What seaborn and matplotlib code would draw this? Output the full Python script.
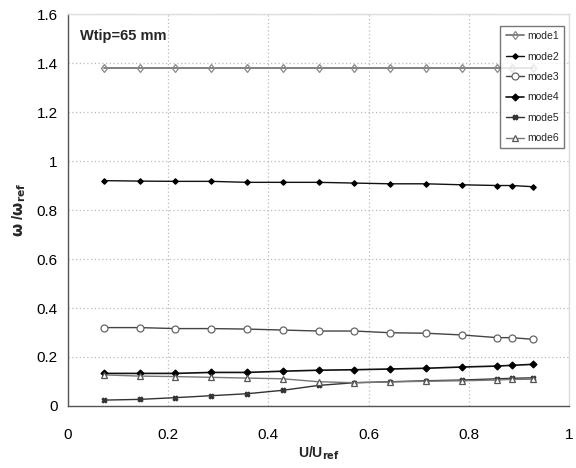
import numpy as np
import pandas as pd
import matplotlib
matplotlib.use("Agg")
import matplotlib.pyplot as plt
import seaborn as sns

x = [0.0714, 0.1429, 0.2143, 0.2857, 0.3571, 0.4286, 0.5, 0.5714, 0.6429, 0.7143, 0.7857, 0.8571, 0.8857, 0.9286]
mode1 = [1.38] * 14
mode2 = [0.920, 0.918, 0.917, 0.917, 0.913, 0.913, 0.913, 0.910, 0.907, 0.907, 0.903, 0.900, 0.900, 0.895]
mode3 = [0.320, 0.320, 0.316, 0.316, 0.314, 0.310, 0.306, 0.306, 0.299, 0.297, 0.290, 0.279, 0.279, 0.272]
mode4 = [0.133, 0.133, 0.133, 0.137, 0.137, 0.142, 0.146, 0.148, 0.151, 0.154, 0.159, 0.163, 0.166, 0.170]
mode5 = [0.024, 0.027, 0.034, 0.042, 0.050, 0.064, 0.084, 0.095, 0.099, 0.103, 0.106, 0.111, 0.113, 0.115]
mode6 = [0.127, 0.122, 0.120, 0.117, 0.114, 0.111, 0.099, 0.095, 0.098, 0.101, 0.103, 0.106, 0.109, 0.109]
names = ["mode1", "mode2", "mode3", "mode4", "mode5", "mode6"]
series = [mode1, mode2, mode3, mode4, mode5, mode6]

sns.set_style("white")
plt.rcParams['font.family'] = ['Liberation Sans', 'DejaVu Sans']

fig = plt.figure(figsize=(5.76, 4.68), dpi=100)
ax = fig.add_axes([0.118, 0.1325, 0.87, 0.8375])

styles = {
    "mode1": dict(color="#777777", marker="d", markersize=4.5, mfc="none", mec="#888888", lw=1.3),
    "mode2": dict(color="#111111", marker="D", markersize=2.8, mfc="black", mec="black", lw=1.0),
    "mode3": dict(color="#444444", marker="o", markersize=5, mfc="white", mec="#666666", lw=1.0),
    "mode4": dict(color="#111111", marker="D", markersize=3.5, mfc="black", mec="black", lw=1.2),
    "mode5": dict(color="#333333", marker="X", markersize=3.5, mfc="#333333", mec="#333333", lw=1.0),
    "mode6": dict(color="#777777", marker="^", markersize=4.5, mfc="white", mec="#555555", lw=1.0),
}

for n, s in zip(names, series):
    df = pd.DataFrame({"x": x, "y": s})
    st = styles[n]
    sns.lineplot(data=df, x="x", y="y", ax=ax, label=n, color=st["color"], lw=st["lw"],
                 marker=st["marker"], markersize=st["markersize"], markerfacecolor=st["mfc"],
                 markeredgecolor=st["mec"], markeredgewidth=0.9)

ax.set_xlim(0, 1)
ax.set_ylim(0, 1.6)
ax.set_xticks([0, 0.2, 0.4, 0.6, 0.8, 1.0])
ax.set_xticklabels(["0", "0.2", "0.4", "0.6", "0.8", "1"])
ax.set_yticks([0, 0.2, 0.4, 0.6, 0.8, 1.0, 1.2, 1.4, 1.6])
ax.set_yticklabels(["0", "0.2", "0.4", "0.6", "0.8", "1", "1.2", "1.4", "1.6"])
ax.tick_params(axis="both", labelsize=11, direction="out", length=4, width=0.8, colors="#444444", labelcolor="black")
ax.xaxis.set_tick_params(pad=12)
ax.grid(True, linestyle=(0, (1, 2)), color="#bbbbbb", linewidth=0.9)

for side in ["left", "bottom"]:
    ax.spines[side].set_color("#555555")
    ax.spines[side].set_linewidth(1.0)
for side in ["top", "right"]:
    ax.spines[side].set_color("#dddddd")
    ax.spines[side].set_linewidth(1.0)

ax.set_xlabel(r"U/U$_{\mathbf{ref}}$", fontsize=10, fontweight="bold", labelpad=2)
ax.set_ylabel(r"$\mathbf{\omega}$ /$\mathbf{\omega}_{\mathbf{ref}}$", fontsize=11, fontweight="bold", labelpad=6)

ax.text(0.025, 0.945, "Wtip=65 mm", transform=ax.transAxes, fontsize=10.5, fontweight="bold", va="center")

leg = ax.legend(loc="upper right", bbox_to_anchor=(0.995, 0.975), fontsize=7.5, frameon=True, fancybox=False,
                edgecolor="#555555", handlelength=1.8, handletextpad=0.3, borderpad=0.5, labelspacing=1.0,
                borderaxespad=0.2)
leg.get_frame().set_linewidth(1.0)

fig.savefig("out.png", dpi=100)
